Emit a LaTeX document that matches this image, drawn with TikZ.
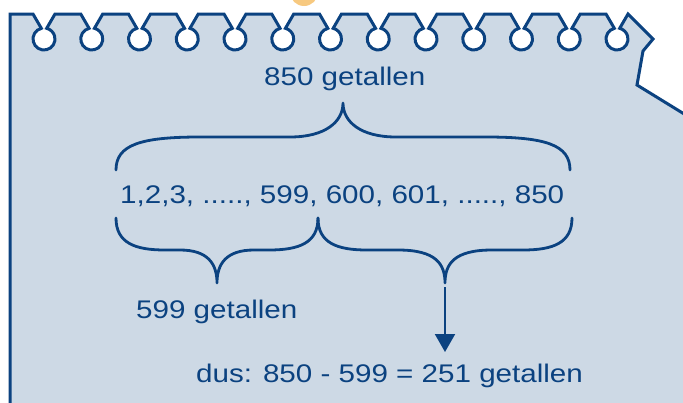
\documentclass[tikz,border=0pt]{standalone}
\usepackage{fontspec}
\setmainfont{Liberation Sans}
\usepackage{graphicx}
\usetikzlibrary{arrows.meta}
\definecolor{paper}{HTML}{CDD9E5}
\definecolor{ink}{HTML}{0B4280}
\definecolor{ring}{HTML}{F7C980}
\begin{document}
\begin{tikzpicture}[x=1pt,y=-1pt,
  lbl/.style={inner sep=0pt, anchor=base west, text=ink, font=\fontsize{25.5}{30}\selectfont},
  bracestyle/.style={draw=ink, line width=2.8pt, line cap=round, line join=round}]
\useasboundingbox (0,0) rectangle (683,402);
\clip (0,0) rectangle (683,402);
\fill[ring] (304,-8) circle[radius=14];
\filldraw[fill=paper, draw=ink, line width=3pt, line join=miter] (10,420) -- (10,14)
  \foreach \i in {0,...,12}{ -- ({44+47.75*\i-11},14) -- ({44+47.75*\i-2.66},28.33)
     arc[start angle=-104, end angle=-436, radius=11] -- ({44+47.75*\i+11},14) }
  -- (653,39) -- (643,51) -- (637,85) -- (720,136) -- (720,420) -- cycle;
% braces
\draw[bracestyle] (116,170) .. controls (116,145) and (140,137) .. (200,137) -- (290,137)
  .. controls (325,137) and (343,122) .. (343,103)
  .. controls (343,122) and (361,137) .. (396,137) -- (486,137)
  .. controls (546,137) and (570,145) .. (570,170);
\draw[bracestyle] (116,218) .. controls (116,243) and (135,250) .. (165,250) -- (180,250)
  .. controls (208,250) and (217,264) .. (217,283)
  .. controls (217,264) and (226,250) .. (254,250) -- (269,250)
  .. controls (299,250) and (318,243) .. (318,218);
\draw[bracestyle] (318,218) .. controls (318,243) and (337,250) .. (367,250) -- (398,250)
  .. controls (436,250) and (445,264) .. (445,283)
  .. controls (445,264) and (454,250) .. (492,250) -- (523,250)
  .. controls (553,250) and (572,243) .. (572,218);
% texts
\node[lbl] (t850) at (264,85) {\scalebox{1.16}[1]{850 getallen}};
\node[lbl] (nums) at (120,203) {\scalebox{1.16}[1]{1,2,3, ....., 599, 600, 601, ....., 850}};
\node[lbl] (t599) at (136,318) {\scalebox{1.16}[1]{599 getallen}};
\node[lbl] (dus) at (196,382) {\scalebox{1.16}[1]{dus: 850 - 599 = 251 getallen}};
% arrow
\coordinate (aS) at (445,287);
\coordinate (aE) at (445,352);
\draw[draw=ink, line width=2pt, -{Triangle[width=20pt,length=18pt,fill=ink]}] (aS) -- (aE);
\end{tikzpicture}
\end{document}
